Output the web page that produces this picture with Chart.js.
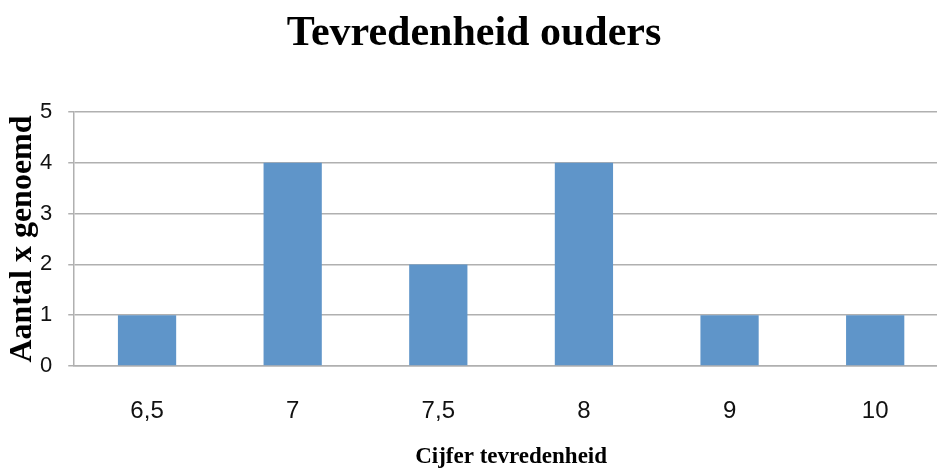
<!DOCTYPE html>
<html>
<head>
<meta charset="utf-8">
<script src="https://cdn.jsdelivr.net/npm/chart.js@4/dist/chart.umd.min.js"></script>
<style>
  html, body { margin: 0; padding: 0; background: #fff; overflow: hidden; }
  #wrap { width: 937px; height: 476px; overflow: hidden; }
</style>
</head>
<body>
<div id="wrap"><canvas id="myChart" width="948" height="476"></canvas></div>
<script>
const categories = ["6,5", "7", "7,5", "8", "9", "10"];
const counts = [1, 4, 2, 4, 1, 1];
const yTicks = [0, 1, 2, 3, 4, 5];

const gridColor = "#b0b0b0";
const serif = "'Liberation Serif', 'Times New Roman', serif";
const sans = "'Liberation Sans', Arial, sans-serif";

const ctx = document.getElementById("myChart");

// note: chart.js reserves tick padding twice in fit(), so the title paddings
// below are tuned (some negative) to land the plot area where the original has it
new Chart(ctx, {
  type: "bar",
  data: {
    labels: categories,
    datasets: [{
      label: "Aantal",
      data: counts,
      backgroundColor: "#5f95c9",
      borderWidth: 0,
      categoryPercentage: 1,
      barPercentage: 0.4
    }]
  },
  options: {
    responsive: false,
    animation: false,
    devicePixelRatio: 1,
    layout: { padding: 0 },
    plugins: {
      legend: { display: false },
      tooltip: { enabled: false },
      title: {
        display: true,
        text: "Tevredenheid ouders",
        color: "#000",
        font: { family: serif, size: 42, weight: "bold", lineHeight: 1.2 },
        padding: { top: 9, bottom: 52.6 }
      }
    },
    scales: {
      x: {
        grid: { display: false, drawTicks: false },
        border: { display: true, color: gridColor, width: 1.5 },
        ticks: {
          color: "#111",
          font: { family: sans, size: 24, lineHeight: 1.2 },
          padding: 31.3
        },
        title: {
          display: true,
          text: "Cijfer tevredenheid",
          color: "#000",
          font: { family: serif, size: 23, weight: "bold", lineHeight: 1.2 },
          padding: { top: -14.2, bottom: 5.2 }
        }
      },
      y: {
        min: 0,
        max: 5,
        afterBuildTicks: axis => {
          axis.ticks = yTicks.map(v => ({ value: v }));
        },
        grid: {
          color: gridColor,
          lineWidth: 1.5,
          tickLength: 6,
          drawTicks: true
        },
        border: { display: true, color: gridColor, width: 1.5 },
        ticks: {
          color: "#111",
          font: { family: sans, size: 22 },
          padding: 16
        },
        title: {
          display: true,
          text: "Aantal x genoemd",
          color: "#000",
          font: { family: serif, size: 32, weight: "bold", lineHeight: 1 },
          padding: { top: 7, bottom: -15 }
        }
      }
    }
  }
});
</script>
</body>
</html>
